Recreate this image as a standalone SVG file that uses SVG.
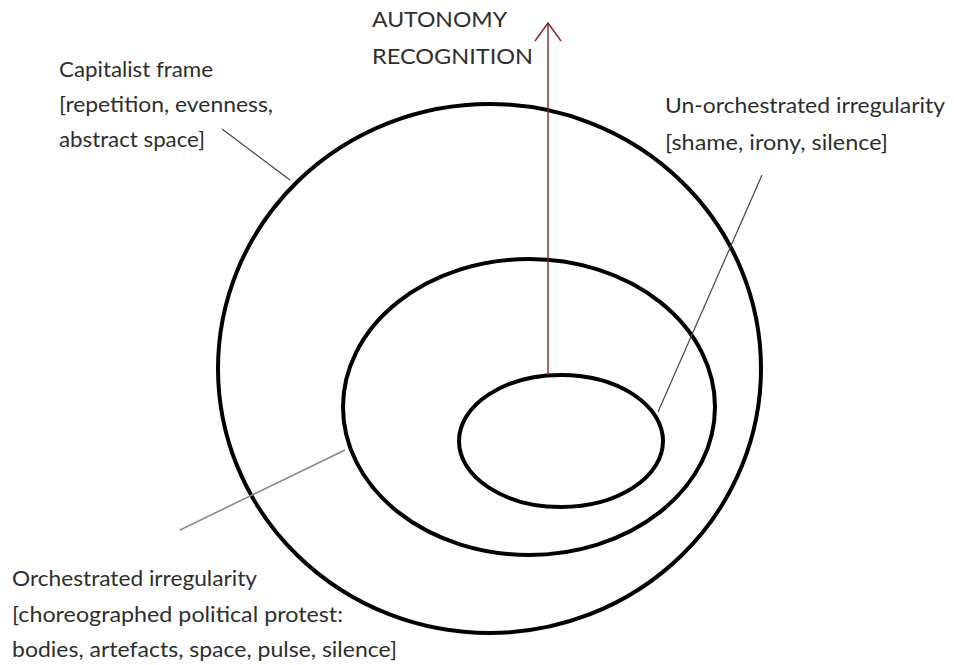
<svg xmlns="http://www.w3.org/2000/svg" width="954" height="665" viewBox="0 0 954 665">
<style>
.ring{fill:none;stroke:#000;stroke-width:4}
.lead{fill:none;stroke:#444;stroke-width:1.2}
.lead2{fill:none;stroke:#888;stroke-width:1.5}
.arrow{fill:none;stroke:#8b1f1f;stroke-width:1.4}
text{font-family:Lato,"Open Sans",sans-serif;font-size:21px;fill:#2e2e2e}
</style>
<rect width="954" height="665" fill="#fff"/>
<g id="capitalist-frame">
<ellipse class="ring" cx="489.5" cy="368.5" rx="271.5" ry="264.5"/>
<text x="59" y="77" textLength="154" lengthAdjust="spacingAndGlyphs">Capitalist frame</text>
<text x="59" y="112" textLength="214" lengthAdjust="spacingAndGlyphs">[repetition, evenness,</text>
<text x="59" y="147" textLength="146" lengthAdjust="spacingAndGlyphs">abstract space]</text>
</g>
<g id="orchestrated-irregularity">
<ellipse class="ring" cx="529" cy="407" rx="186" ry="148"/>
<text x="12" y="586" textLength="245" lengthAdjust="spacingAndGlyphs">Orchestrated irregularity</text>
<text x="12" y="622" textLength="331" lengthAdjust="spacingAndGlyphs">[choreographed political protest:</text>
<text x="12" y="657" textLength="385" lengthAdjust="spacingAndGlyphs">bodies, artefacts, space, pulse, silence]</text>
</g>
<g id="un-orchestrated-irregularity">
<ellipse class="ring" cx="561" cy="441" rx="102" ry="66"/>
<text x="665" y="113" textLength="280" lengthAdjust="spacingAndGlyphs">Un-orchestrated irregularity</text>
<text x="665" y="150" textLength="223" lengthAdjust="spacingAndGlyphs">[shame, irony, silence]</text>
</g>
<g id="autonomy-label">
<text x="372" y="27" textLength="135" lengthAdjust="spacingAndGlyphs">AUTONOMY</text>
<text x="372" y="64" textLength="161" lengthAdjust="spacingAndGlyphs">RECOGNITION</text>
</g>
<g id="connectors">
<line class="arrow" x1="548" y1="375" x2="548" y2="23"/>
<polyline class="arrow" points="535,41 548,23 561,41"/>
<line class="lead" x1="222" y1="129" x2="290" y2="180"/>
<line class="lead" x1="762" y1="175" x2="658" y2="412"/>
<line class="lead2" x1="180" y1="530" x2="345" y2="450"/>
</g>
</svg>
